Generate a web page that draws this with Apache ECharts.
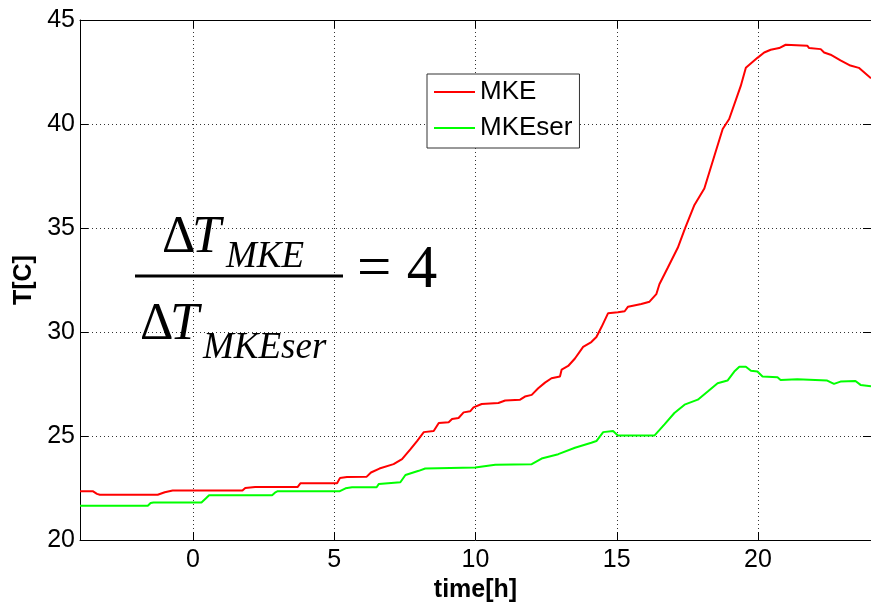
<!DOCTYPE html>
<html>
<head>
<meta charset="utf-8">
<script src="https://cdn.jsdelivr.net/npm/echarts@6/dist/echarts.min.js"></script>
<style>
  html, body { margin: 0; padding: 0; background: #fff; }
  #chart { width: 871px; height: 608px; }
</style>
</head>
<body>
<div id="chart"></div>
<script>
// Temperature logs, hours vs. degrees C
const mkeHours = [-4.0, -3.55, -3.4, -3.3, -1.25, -1.0, -0.72, 1.75, 1.85, 2.2, 3.7, 3.8, 5.1, 5.2, 5.45, 6.15, 6.3, 6.6, 7.1, 7.4, 7.7, 7.93, 8.17, 8.52, 8.7, 9.05, 9.17, 9.4, 9.58, 9.81, 9.93, 10.22, 10.81, 11.05, 11.58, 11.75, 11.99, 12.22, 12.46, 12.69, 12.99, 13.05, 13.28, 13.52, 13.81, 14.1, 14.28, 14.46, 14.69, 15.04, 15.28, 15.4, 15.87, 16.16, 16.4, 16.51, 16.81, 17.16, 17.42, 17.75, 18.1, 18.46, 18.75, 18.98, 19.39, 19.57, 19.98, 20.22, 20.45, 20.75, 20.98, 21.75, 21.81, 22.22, 22.34, 22.57, 22.92, 23.27, 23.57, 24.0];
const mkeTemp = [22.35, 22.35, 22.22, 22.18, 22.18, 22.3, 22.38, 22.38, 22.5, 22.55, 22.55, 22.73, 22.73, 22.98, 23.03, 23.05, 23.25, 23.44, 23.65, 23.89, 24.37, 24.76, 25.19, 25.24, 25.63, 25.67, 25.82, 25.87, 26.14, 26.19, 26.38, 26.54, 26.59, 26.71, 26.75, 26.9, 26.98, 27.3, 27.57, 27.78, 27.86, 28.2, 28.37, 28.73, 29.29, 29.52, 29.76, 30.24, 30.9, 30.95, 31.0, 31.22, 31.35, 31.46, 31.82, 32.3, 33.1, 34.05, 35.0, 36.11, 36.9, 38.49, 39.76, 40.24, 41.83, 42.7, 43.18, 43.44, 43.57, 43.65, 43.81, 43.76, 43.65, 43.6, 43.44, 43.33, 43.06, 42.81, 42.7, 42.2];

const serHours = [-4.0, -1.6, -1.5, -1.4, 0.3, 0.45, 0.57, 2.8, 2.9, 3.0, 5.2, 5.4, 5.63, 6.5, 6.58, 7.34, 7.52, 7.99, 8.22, 9.99, 10.7, 11.99, 12.34, 12.93, 13.52, 14.1, 14.28, 14.52, 14.87, 15.04, 16.34, 16.69, 17.04, 17.4, 17.87, 18.22, 18.57, 18.92, 19.16, 19.34, 19.57, 19.75, 19.98, 20.16, 20.69, 20.8, 21.39, 22.45, 22.69, 22.92, 23.45, 23.63, 24.0];
const serTemp = [21.65, 21.65, 21.78, 21.81, 21.81, 22.0, 22.16, 22.16, 22.28, 22.35, 22.35, 22.49, 22.54, 22.54, 22.7, 22.78, 23.13, 23.33, 23.44, 23.49, 23.62, 23.65, 23.92, 24.13, 24.44, 24.68, 24.76, 25.19, 25.24, 25.03, 25.03, 25.56, 26.11, 26.51, 26.75, 27.14, 27.54, 27.67, 28.1, 28.33, 28.33, 28.14, 28.1, 27.86, 27.83, 27.7, 27.73, 27.67, 27.51, 27.62, 27.65, 27.46, 27.4];

const hourTicks = [0, 5, 10, 15, 20];
const seriesNames = ['MKE', 'MKEser'];

const pairs = (xs, ys) => xs.map((x, i) => [x, ys[i]]);

const SANS = '"Liberation Sans", Arial, sans-serif';
const SERIF = '"Liberation Serif", "Times New Roman", serif';
const AXIS_COLOR = '#000';

const chart = echarts.init(document.getElementById('chart'), null, { renderer: 'canvas' });

const tickStyle = { show: true, inside: true, length: 8, lineStyle: { color: AXIS_COLOR, width: 1 } };
const gridDots = { show: true, lineStyle: { color: '#333', width: 1, type: [1, 3] } };

chart.setOption({
  animation: false,
  backgroundColor: '#fff',
  grid: { left: 80, top: 20, width: 794, bottom: 63, containLabel: false },
  legend: {
    data: seriesNames,
    orient: 'vertical',
    left: 427,
    top: 74,
    padding: [3, 7, 5, 7],
    backgroundColor: '#fff',
    borderColor: '#333',
    borderWidth: 1,
    icon: 'rect',
    itemWidth: 41,
    itemHeight: 2,
    itemGap: 6,
    textStyle: { fontFamily: SANS, fontSize: 26, color: '#000', lineHeight: 30, padding: [0, 0, 0, 0] }
  },
  xAxis: [{
    type: 'value',
    min: -4,
    max: 24,
    name: 'time[h]',
    nameLocation: 'middle',
    nameGap: 33,
    nameTextStyle: { fontFamily: SANS, fontSize: 25, fontWeight: 'bold', color: '#000' },
    axisLine: { show: true, onZero: false, lineStyle: { color: AXIS_COLOR, width: 1 } },
    axisTick: Object.assign({ customValues: hourTicks }, tickStyle),
    axisLabel: { customValues: hourTicks, fontFamily: SANS, fontSize: 25, color: '#000', margin: 8 },
    splitLine: gridDots
  }, {
    type: 'value',
    position: 'top',
    min: -4,
    max: 24,
    axisLine: { show: true, onZero: false, lineStyle: { color: AXIS_COLOR, width: 1 } },
    axisTick: Object.assign({ customValues: hourTicks }, tickStyle),
    axisLabel: { show: false },
    splitLine: { show: false }
  }],
  yAxis: [{
    type: 'value',
    min: 20,
    max: 45,
    interval: 5,
    name: 'T[C]',
    nameLocation: 'middle',
    nameGap: 40,
    nameTextStyle: { fontFamily: SANS, fontSize: 25, fontWeight: 'bold', color: '#000' },
    axisLine: { show: true, onZero: false, lineStyle: { color: AXIS_COLOR, width: 1 } },
    axisTick: tickStyle,
    axisLabel: { fontFamily: SANS, fontSize: 25, color: '#000', margin: 5 },
    splitLine: gridDots
  }, {
    type: 'value',
    position: 'right',
    min: 20,
    max: 45,
    interval: 5,
    axisLine: { show: true, onZero: false, lineStyle: { color: AXIS_COLOR, width: 1 } },
    axisTick: tickStyle,
    axisLabel: { show: false },
    splitLine: { show: false }
  }],
  series: [{
    name: seriesNames[0],
    type: 'line',
    data: pairs(mkeHours, mkeTemp),
    showSymbol: false,
    lineStyle: { color: '#ff0000', width: 2 },
    itemStyle: { color: '#ff0000' },
    z: 3
  }, {
    name: seriesNames[1],
    type: 'line',
    data: pairs(serHours, serTemp),
    showSymbol: false,
    lineStyle: { color: '#00ff00', width: 2 },
    itemStyle: { color: '#00ff00' },
    z: 2
  }],
  graphic: [
    // numerator: ΔT_MKE
    { type: 'text', x: 162, y: 238, z: 10, style: { text: 'Δ', font: '52px ' + SERIF, fill: '#000', align: 'left', verticalAlign: 'middle', textAlign: 'left', textVerticalAlign: 'middle' } },
    { type: 'text', x: 192, y: 238, z: 10, style: { text: 'T', font: 'italic 52px ' + SERIF, fill: '#000', align: 'left', verticalAlign: 'middle', textAlign: 'left', textVerticalAlign: 'middle' } },
    { type: 'text', x: 226, y: 257, z: 10, style: { text: 'MKE', font: 'italic 37px ' + SERIF, fill: '#000', align: 'left', verticalAlign: 'middle', textAlign: 'left', textVerticalAlign: 'middle' } },
    // fraction bar
    { type: 'rect', z: 10, shape: { x: 135, y: 274.5, width: 208, height: 3 }, style: { fill: '#000' } },
    // denominator: ΔT_MKEser
    { type: 'text', x: 140, y: 325, z: 10, style: { text: 'Δ', font: '52px ' + SERIF, fill: '#000', align: 'left', verticalAlign: 'middle', textAlign: 'left', textVerticalAlign: 'middle' } },
    { type: 'text', x: 170, y: 325, z: 10, style: { text: 'T', font: 'italic 52px ' + SERIF, fill: '#000', align: 'left', verticalAlign: 'middle', textAlign: 'left', textVerticalAlign: 'middle' } },
    { type: 'text', x: 203, y: 348, z: 10, style: { text: 'MKEser', font: 'italic 37px ' + SERIF, fill: '#000', align: 'left', verticalAlign: 'middle', textAlign: 'left', textVerticalAlign: 'middle' } },
    // "= 4"
    { type: 'text', x: 357, y: 271, z: 10, style: { text: '= 4', font: '61px ' + SERIF, fill: '#000', align: 'left', verticalAlign: 'middle', textAlign: 'left', textVerticalAlign: 'middle' } }
  ]
});
</script>
</body>
</html>
